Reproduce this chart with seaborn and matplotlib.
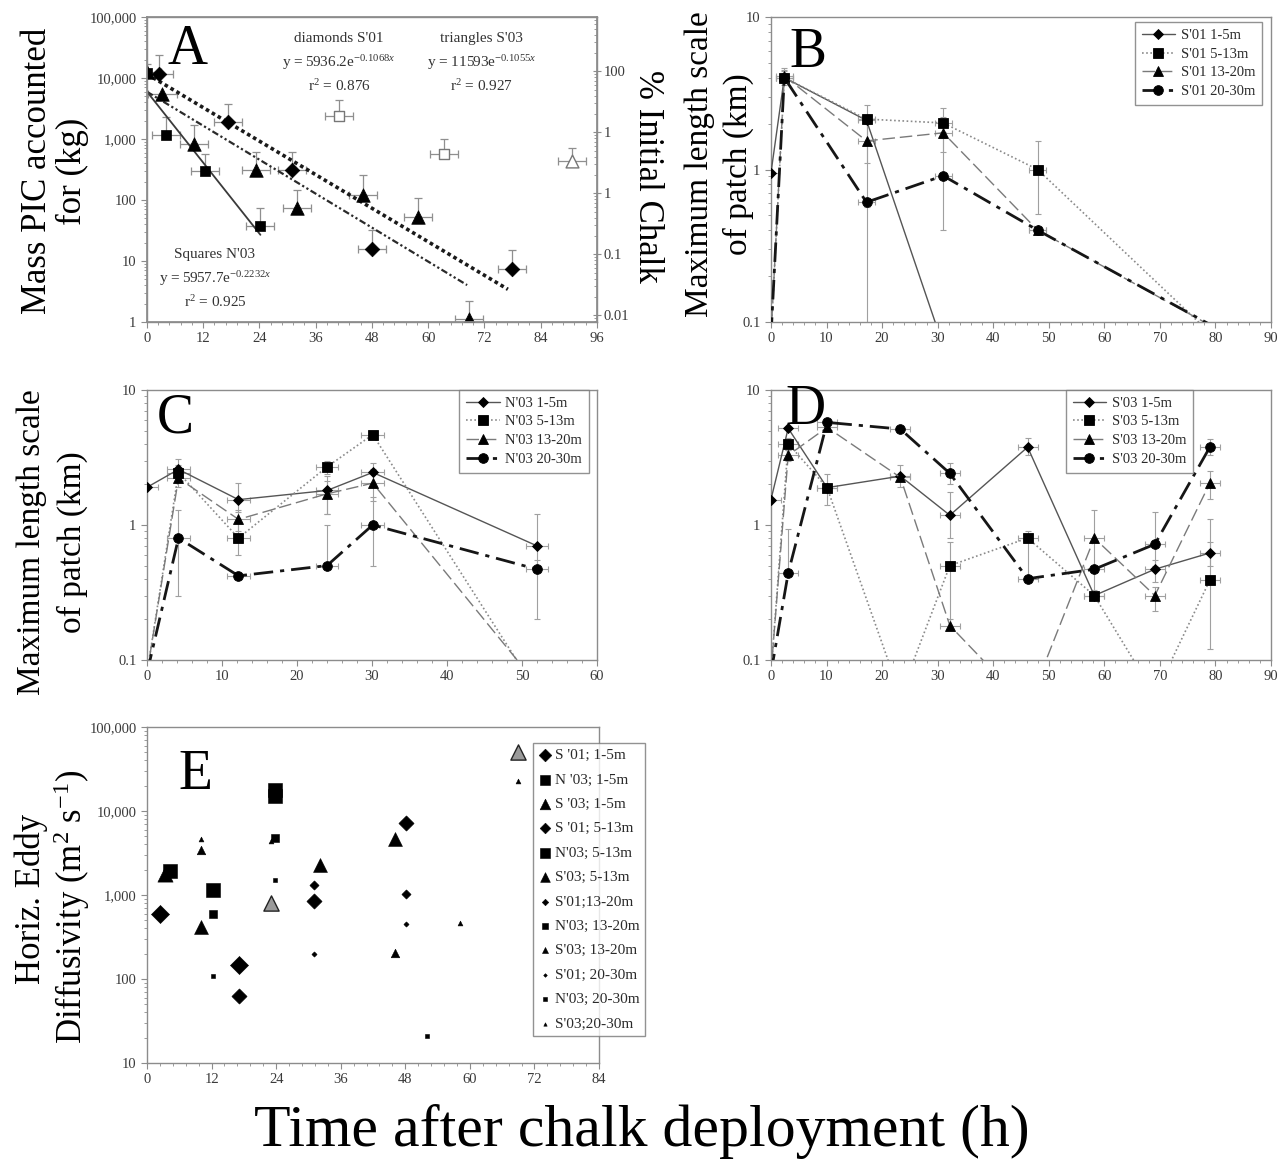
import numpy as np
import matplotlib
matplotlib.use("Agg")
import matplotlib.pyplot as plt
import matplotlib.ticker as mticker
import seaborn as sns

sns.set_theme(style="ticks")
plt.rcParams["font.family"] = ["Liberation Serif", "DejaVu Serif"]
plt.rcParams["mathtext.fontset"] = "custom"
plt.rcParams["mathtext.rm"] = "Liberation Serif"
plt.rcParams["mathtext.it"] = "Liberation Serif:italic"
plt.rcParams["mathtext.bf"] = "Liberation Serif:bold"

# ---------------- Panel A: PIC mass accounted for (kg) ----------------
a_tri_t = [0.0, 3.3, 10.1, 23.3, 32.0, 46.0, 57.9, 68.7]
a_tri_kg = [12500, 5500, 820, 305, 74, 120, 52, 1.1]
a_tri_up = [17000, 5500, 1675, 620, 146, 253, 109, 2.25]
a_sq_t = [0.0, 4.1, 12.3, 24.2]
a_sq_kg = [12000, 1180, 295, 37]
a_sq_up = [12000, 2300, 575, 75]
a_dia_t = [2.5, 17.2, 31.0, 48.0, 77.8]
a_dia_kg = [11500, 1900, 310, 15.5, 7.3]
a_dia_up = [23500, 3800, 620, 32, 15]
a_open_sq_t = [41.0, 63.4]
a_open_sq_kg = [2400, 560]
a_open_sq_up = [4300, 1000]
a_open_tri_t = [90.6]
a_open_tri_kg = [440]
a_open_tri_up = [700]
a_time_err = 3.0

# exponential fits: (coefficient, rate, last hour drawn)
fit_s01 = (5936.2, -0.1068, 68.3)
fit_s03 = (11593.0, -0.1055, 77.0)
fit_n03 = (5957.7, -0.2232, 24.2)
kg_per_percent = 128.5

# ---------------- Panel B: S'01 patch length (km) ----------------
b_t1 = [0.0, 2.4, 17.2, 31.0]
b_1_5 = [0.95, 4.0, 2.1, 0.07]
b_1_5_lo = [np.nan, 3.7, np.nan, np.nan]
b_1_5_hi = [np.nan, 4.4, np.nan, np.nan]
b_t = [0.0, 2.4, 17.2, 31.0, 48.0, 82.0]
b_5_13 = [0.08, 4.0, 2.14, 2.02, 1.0, 0.067]
b_5_13_lo = [np.nan, 3.6, 0.05, 1.6, 0.51, np.nan]
b_5_13_hi = [np.nan, 4.5, 2.63, 2.53, 1.53, np.nan]
b_13_20 = [0.08, 4.1, 1.54, 1.74, 0.40, 0.083]
b_13_20_lo = [np.nan, 3.8, 1.1, 1.3, 0.38, np.nan]
b_13_20_hi = [np.nan, 4.6, 2.0, 2.2, 0.42, np.nan]
b_20_30 = [0.08, 4.0, 0.61, 0.91, 0.40, 0.084]
b_20_30_lo = [np.nan, 3.7, 0.57, 0.40, 0.38, np.nan]
b_20_30_hi = [np.nan, 4.3, 0.65, 1.75, 0.42, np.nan]

# ---------------- Panel C: N'03 patch length (km) ----------------
c_t = [0.0, 4.2, 12.2, 24.0, 30.1, 52.0]
c_1_5 = [1.9, 2.58, 1.54, 1.80, 2.45, 0.70]
c_1_5_lo = [np.nan, 2.2, 1.25, 1.2, 2.0, 0.5]
c_1_5_hi = [np.nan, 3.1, 2.06, 2.3, 2.9, 1.2]
c_5_13 = [0.08, 2.44, 0.80, 2.69, 4.67, 0.058]
c_5_13_lo = [np.nan, 2.1, 0.6, 2.4, 4.3, np.nan]
c_5_13_hi = [np.nan, 2.8, 1.05, 3.0, 5.0, np.nan]
c_13_20 = [0.08, 2.22, 1.10, 1.70, 2.04, 0.066]
c_13_20_lo = [np.nan, 1.9, 0.9, 1.2, 1.5, np.nan]
c_13_20_hi = [np.nan, 2.6, 1.3, 2.1, 2.6, np.nan]
c_20_30 = [0.08, 0.80, 0.42, 0.50, 1.00, 0.47]
c_20_30_lo = [np.nan, 0.30, 0.40, 0.50, 0.50, 0.20]
c_20_30_hi = [np.nan, 1.30, 0.45, 1.00, 1.60, 0.55]

# ---------------- Panel D: S'03 patch length (km) ----------------
d_t = [0.0, 3.1, 10.1, 23.3, 32.2, 46.2, 58.2, 69.1, 79.0]
d_1_5 = [1.54, 5.2, 1.89, 2.3, 1.18, 3.77, 0.30, 0.47, 0.62]
d_1_5_lo = [np.nan, np.nan, np.nan, np.nan, 0.8, 3.3, np.nan, 0.38, 0.5]
d_1_5_hi = [np.nan, np.nan, np.nan, np.nan, 1.75, 4.4, np.nan, 0.55, 0.75]
d_5_13 = [0.08, 4.0, 1.89, 0.055, 0.50, 0.80, 0.30, 0.055, 0.39]
d_5_13_lo = [np.nan, 3.6, 1.4, np.nan, 0.18, 0.40, 0.28, np.nan, 0.12]
d_5_13_hi = [np.nan, 4.4, 2.4, np.nan, 0.75, 0.9, 0.33, np.nan, 1.1]
d_13_20 = [0.08, 3.28, 5.28, 2.25, 0.18, 0.045, 0.80, 0.30, 2.04]
d_13_20_lo = [np.nan, 3.0, 5.0, 1.9, 0.17, np.nan, 0.3, 0.23, 1.55]
d_13_20_hi = [np.nan, 3.6, 5.6, 2.8, 0.2, np.nan, 1.3, 0.35, 2.5]
d_20_30 = [0.08, 0.44, 5.75, 5.13, 2.41, 0.40, 0.47, 0.72, 3.77]
d_20_30_lo = [np.nan, 0.42, 5.5, 4.9, 2.0, 0.38, 0.45, 0.5, 3.3]
d_20_30_hi = [np.nan, 0.93, 6.1, 5.4, 2.9, 0.42, 0.5, 1.25, 4.3]

# ---------------- Panel E: horizontal eddy diffusivity (m2 s-1) ----------------
e_s01_1_t, e_s01_1 = [2.5, 17.1], [600, 145]
e_n03_1_t, e_n03_1 = [4.3, 23.8], [1950, 15000]
e_s03_1_t, e_s03_1 = [3.3], [1760]
e_s01_5_t, e_s01_5 = [17.1, 31.1, 48.1], [62, 853, 7230]
e_n03_5_t, e_n03_5 = [12.3, 23.8], [1150, 17800]
e_s03_5_t, e_s03_5 = [10.0, 32.1, 46.1], [414, 2300, 4630]
e_s01_13_t, e_s01_13 = [31.1, 48.1], [1300, 1028]
e_n03_13_t, e_n03_13 = [12.3, 23.8], [600, 4840]
e_s03_13_t, e_s03_13 = [10.0, 46.1], [3440, 202]
e_s01_20_t, e_s01_20 = [31.1, 48.1], [199, 458]
e_n03_20_t, e_n03_20 = [12.3, 23.8, 52.0], [108, 1520, 20.8]
e_s03_20_t, e_s03_20 = [10.0, 23.1, 58.1, 68.9], [4670, 4420, 467, 23100]
e_shaded_t, e_shaded = [23.1, 68.9], [800, 50800]

SPINE = "#8c8c8c"
TICKLAB = "#3a3a3a"


def style_axes(ax, xmax, xmajor, xminor):
    for s in ax.spines.values():
        s.set_visible(True)
        s.set_color(SPINE)
        s.set_linewidth(1.0)
    ax.set_xlim(0, xmax)
    ax.xaxis.set_major_locator(mticker.MultipleLocator(xmajor))
    ax.xaxis.set_minor_locator(mticker.MultipleLocator(xminor))
    ax.tick_params(which="major", direction="out", length=4, width=0.8,
                   color=SPINE, labelcolor=TICKLAB, labelsize=10.5)
    ax.tick_params(which="minor", direction="out", length=2.5, width=0.6,
                   color=SPINE)
    ax.set_xlabel("")
    ax.set_ylabel("")


def comma_fmt(v, pos):
    if v >= 1:
        return f"{v:,.0f}"
    return f"{v:g}"


def log_km_axis(ax):
    ax.set_yscale("log")
    ax.set_ylim(0.1, 10)
    ax.yaxis.set_major_locator(mticker.LogLocator(base=10, numticks=5))
    ax.yaxis.set_major_formatter(mticker.FuncFormatter(lambda v, p: f"{v:g}"))
    ax.yaxis.set_minor_locator(mticker.LogLocator(base=10, subs=np.arange(2, 10), numticks=20))
    ax.yaxis.set_minor_formatter(mticker.NullFormatter())


def draw_errors(ax, x, y, lo, hi, xe):
    x = np.asarray(x, float)
    y = np.asarray(y, float)
    lo = np.asarray(lo, float)
    hi = np.asarray(hi, float)
    lo = np.where(np.isnan(lo), y, lo)
    hi = np.where(np.isnan(hi), y, hi)
    ax.errorbar(x, y, xerr=xe, yerr=[y - lo, hi - y], fmt="none",
                ecolor="#a0a0a0", elinewidth=0.8, capsize=2.2, capthick=0.8,
                zorder=1)


DEPTH_STYLE = {
    "1-5m": dict(color="#555555", linestyle="-", linewidth=1.0, marker="D", markersize=5),
    "5-13m": dict(color="#8a8a8a", linestyle=(0, (1, 1.5)), linewidth=1.2, marker="s", markersize=6.5),
    "13-20m": dict(color="#7a7a7a", linestyle=(0, (9, 3.5)), linewidth=1.0, marker="^", markersize=7),
    "20-30m": dict(color="#161616", linestyle=(0, (7, 2.5, 1.5, 2.5)), linewidth=2.0, marker="o", markersize=7),
}


def profile_panel(ax, series, xe):
    for label, depth, t, v, lo, hi in series:
        draw_errors(ax, t, v, lo, hi, xe)
    for label, depth, t, v, lo, hi in series:
        st = DEPTH_STYLE[depth]
        sns.lineplot(x=t, y=v, ax=ax, estimator=None, sort=False, label=label,
                     color=st["color"], linestyle=st["linestyle"], linewidth=st["linewidth"],
                     marker=st["marker"], markersize=st["markersize"],
                     markerfacecolor="black", markeredgecolor="black",
                     markeredgewidth=0.6, zorder=3, legend=False)


fig = plt.figure(figsize=(12.86, 11.71), dpi=100)
axA = fig.add_axes([0.1143, 0.7250, 0.3499, 0.2605])
axB = fig.add_axes([0.5995, 0.7250, 0.3888, 0.2605])
axC = fig.add_axes([0.1143, 0.4364, 0.3499, 0.2306])
axD = fig.add_axes([0.5995, 0.4364, 0.3888, 0.2306])
axE = fig.add_axes([0.1143, 0.0922, 0.3515, 0.2869])

# ---------------- A ----------------
axA.set_yscale("log")
for t, m, up in [(a_tri_t, a_tri_kg, a_tri_up), (a_sq_t, a_sq_kg, a_sq_up),
                 (a_dia_t, a_dia_kg, a_dia_up), (a_open_sq_t, a_open_sq_kg, a_open_sq_up),
                 (a_open_tri_t, a_open_tri_kg, a_open_tri_up)]:
    m = np.asarray(m, float)
    up = np.asarray(up, float)
    axA.errorbar(t, m, xerr=a_time_err, yerr=[np.zeros_like(m), up - m], fmt="none",
                 ecolor="#8f8f8f", elinewidth=0.9, capsize=3, capthick=0.9, zorder=1)

for (coef, rate, tend), ls, lw, col in [
        (fit_s03, (0, (1, 0.9)), 2.6, "#1a1a1a"),
        (fit_s01, (0, (3, 1.2, 1, 1.2, 1, 1.2)), 1.6, "#2a2a2a"),
        (fit_n03, "-", 1.3, "#3a3a3a")]:
    tt = np.linspace(0, tend, 200)
    axA.plot(tt, coef * np.exp(rate * tt), linestyle=ls, linewidth=lw, color=col, zorder=2)

sns.scatterplot(x=a_tri_t, y=a_tri_kg, ax=axA, marker="^", s=95, color="black",
                edgecolor="black", linewidth=0.5, zorder=3)
sns.scatterplot(x=a_sq_t, y=a_sq_kg, ax=axA, marker="s", s=60, color="black",
                edgecolor="black", linewidth=0.5, zorder=3)
sns.scatterplot(x=a_dia_t, y=a_dia_kg, ax=axA, marker="D", s=55, color="black",
                edgecolor="black", linewidth=0.5, zorder=3)
sns.scatterplot(x=a_open_sq_t, y=a_open_sq_kg, ax=axA, marker="s", s=60, color="white",
                edgecolor="#777777", linewidth=1.0, zorder=3)
sns.scatterplot(x=a_open_tri_t, y=a_open_tri_kg, ax=axA, marker="^", s=85, color="white",
                edgecolor="#777777", linewidth=1.0, zorder=3)

style_axes(axA, 96, 12, 2.4)
axA.set_ylim(1, 100000)
axA.yaxis.set_major_locator(mticker.LogLocator(base=10, numticks=7))
axA.yaxis.set_major_formatter(mticker.FuncFormatter(comma_fmt))
axA.yaxis.set_minor_locator(mticker.LogLocator(base=10, subs=np.arange(2, 10), numticks=30))
axA.yaxis.set_minor_formatter(mticker.NullFormatter())

axA2 = axA.twinx()
axA2.set_yscale("log")
axA2.set_ylim(1 / kg_per_percent, 100000 / kg_per_percent)
axA2.yaxis.set_major_locator(mticker.FixedLocator([0.01, 0.1, 1, 10, 100]))
axA2.yaxis.set_major_formatter(mticker.FixedFormatter(["0.01", "0.1", "1", "1", "100"]))
axA2.yaxis.set_minor_locator(mticker.LogLocator(base=10, subs=np.arange(2, 10), numticks=30))
axA2.yaxis.set_minor_formatter(mticker.NullFormatter())
axA2.tick_params(which="major", direction="inout", length=6, width=0.8, pad=2,
                 color=SPINE, labelcolor=TICKLAB, labelsize=10.5)
axA2.tick_params(which="minor", direction="in", length=2.5, width=0.6, color=SPINE)
for s in axA2.spines.values():
    s.set_color(SPINE)

ann = dict(transform=axA.transAxes, ha="center", va="center", fontsize=11, color="#333333")
axA.text(0.427, 0.929, "diamonds S'01", **ann)
axA.text(0.427, 0.852, r"y = 5936.2e$^{-0.1068x}$", **ann)
axA.text(0.427, 0.773, r"r$^{2}$ = 0.876", **ann)
axA.text(0.744, 0.929, "triangles S'03", **ann)
axA.text(0.744, 0.852, r"y = 11593e$^{-0.1055x}$", **ann)
axA.text(0.744, 0.773, r"r$^{2}$ = 0.927", **ann)
axA.text(0.151, 0.222, "Squares N'03", **ann)
axA.text(0.151, 0.142, r"y = 5957.7e$^{-0.2232x}$", **ann)
axA.text(0.151, 0.066, r"r$^{2}$ = 0.925", **ann)

# ---------------- B, C, D ----------------
profile_panel(axB, [
    ("S'01 1-5m", "1-5m", b_t1, b_1_5, b_1_5_lo, b_1_5_hi),
    ("S'01 5-13m", "5-13m", b_t, b_5_13, b_5_13_lo, b_5_13_hi),
    ("S'01 13-20m", "13-20m", b_t, b_13_20, b_13_20_lo, b_13_20_hi),
    ("S'01 20-30m", "20-30m", b_t, b_20_30, b_20_30_lo, b_20_30_hi),
], 1.5)
profile_panel(axC, [
    ("N'03 1-5m", "1-5m", c_t, c_1_5, c_1_5_lo, c_1_5_hi),
    ("N'03 5-13m", "5-13m", c_t, c_5_13, c_5_13_lo, c_5_13_hi),
    ("N'03 13-20m", "13-20m", c_t, c_13_20, c_13_20_lo, c_13_20_hi),
    ("N'03 20-30m", "20-30m", c_t, c_20_30, c_20_30_lo, c_20_30_hi),
], 1.5)
profile_panel(axD, [
    ("S'03 1-5m", "1-5m", d_t, d_1_5, d_1_5_lo, d_1_5_hi),
    ("S'03 5-13m", "5-13m", d_t, d_5_13, d_5_13_lo, d_5_13_hi),
    ("S'03 13-20m", "13-20m", d_t, d_13_20, d_13_20_lo, d_13_20_hi),
    ("S'03 20-30m", "20-30m", d_t, d_20_30, d_20_30_lo, d_20_30_hi),
], 1.8)

for ax, xmax in [(axB, 90), (axC, 60), (axD, 90)]:
    log_km_axis(ax)
    style_axes(ax, xmax, 10, 2)

leg_kw = dict(fontsize=10.5, frameon=True, fancybox=False, edgecolor="#777777",
              handlelength=2.3, labelspacing=0.38, borderpad=0.45, handletextpad=0.4,
              borderaxespad=0)
for ax, loc, anchor in [(axB, "upper right", (0.982, 0.983)),
                        (axC, "upper right", (0.982, 1.0)),
                        (axD, "upper left", (0.59, 1.0))]:
    lg = ax.legend(loc=loc, bbox_to_anchor=anchor, **leg_kw)
    lg.get_frame().set_linewidth(1.0)
    for tx in lg.get_texts():
        tx.set_color("#2a2a2a")

# ---------------- E ----------------
axE.set_yscale("log")
e_groups = [
    ("S '01; 1-5m", "D", 85, e_s01_1_t, e_s01_1),
    ("N '03; 1-5m", "s", 110, e_n03_1_t, e_n03_1),
    ("S '03; 1-5m", "^", 120, e_s03_1_t, e_s03_1),
    ("S '01; 5-13m", "D", 60, e_s01_5_t, e_s01_5),
    ("N'03; 5-13m", "s", 100, e_n03_5_t, e_n03_5),
    ("S'03; 5-13m", "^", 100, e_s03_5_t, e_s03_5),
    ("S'01;13-20m", "D", 22, e_s01_13_t, e_s01_13),
    ("N'03; 13-20m", "s", 32, e_n03_13_t, e_n03_13),
    ("S'03; 13-20m", "^", 38, e_s03_13_t, e_s03_13),
    ("S'01; 20-30m", "D", 7, e_s01_20_t, e_s01_20),
    ("N'03; 20-30m", "s", 10, e_n03_20_t, e_n03_20),
    ("S'03;20-30m", "^", 12, e_s03_20_t, e_s03_20),
]
for label, mk, size, t, k in e_groups:
    sns.scatterplot(x=t, y=k, ax=axE, marker=mk, s=size, color="black",
                    edgecolor="black", linewidth=0.4, label=label, zorder=3, legend=False)
sns.scatterplot(x=e_shaded_t, y=e_shaded, ax=axE, marker="^", s=120, color="#9a9a9a",
                edgecolor="#222222", linewidth=1.0, zorder=3, legend=False)

style_axes(axE, 84, 12, 2.4)
axE.set_ylim(10, 100000)
axE.yaxis.set_major_locator(mticker.LogLocator(base=10, numticks=7))
axE.yaxis.set_major_formatter(mticker.FuncFormatter(comma_fmt))
axE.yaxis.set_minor_locator(mticker.LogLocator(base=10, subs=np.arange(2, 10), numticks=30))
axE.yaxis.set_minor_formatter(mticker.NullFormatter())
lgE = axE.legend(loc="upper left", bbox_to_anchor=(0.853, 0.952), fontsize=11,
                 frameon=True, fancybox=False, edgecolor="#777777", markerscale=0.7,
                 handlelength=0.9, handletextpad=0.2, labelspacing=0.7,
                 borderpad=0.35, borderaxespad=0, scatterpoints=1)
lgE.get_frame().set_linewidth(1.0)
lgE.set_zorder(5)
for tx in lgE.get_texts():
    tx.set_color("#2a2a2a")

# ---------------- panel letters and axis titles ----------------
for ax, (px, py), letter in [(axA, (0.091, 0.892), "A"), (axB, (0.074, 0.882), "B"),
                             (axC, (0.062, 0.896), "C"), (axD, (0.07, 0.926), "D"),
                             (axE, (0.106, 0.857), "E")]:
    ax.text(px, py, letter, transform=ax.transAxes, ha="center", va="center",
            fontsize=40, color="black", zorder=6)

lab = dict(rotation=90, ha="center", va="center", color="black")
# two-line axis titles, one text per line
fig.text(0.0290, 0.854, "Mass PIC accounted", fontsize=25, **lab)
fig.text(0.0565, 0.854, "for (kg)", fontsize=25, **lab)
fig.text(0.5035, 0.849, "% Initial Chalk", fontsize=25, rotation=270, ha="center",
         va="center", color="black")
fig.text(0.5445, 0.860, "Maximum length scale", fontsize=24, **lab)
fig.text(0.5745, 0.860, "of patch (km)", fontsize=24, **lab)
fig.text(0.0250, 0.537, "Maximum length scale", fontsize=24, **lab)
fig.text(0.0560, 0.537, "of patch (km)", fontsize=24, **lab)
fig.text(0.0245, 0.232, "Horiz. Eddy", fontsize=25, **lab)
fig.text(0.0560, 0.226, "Diffusivity (m$^{2}$ s$^{-1}$)", fontsize=25, **lab)
fig.text(0.499, 0.034, "Time after chalk deployment (h)", fontsize=43,
         ha="center", va="center", color="black")

fig.savefig("out.png", dpi=100)
